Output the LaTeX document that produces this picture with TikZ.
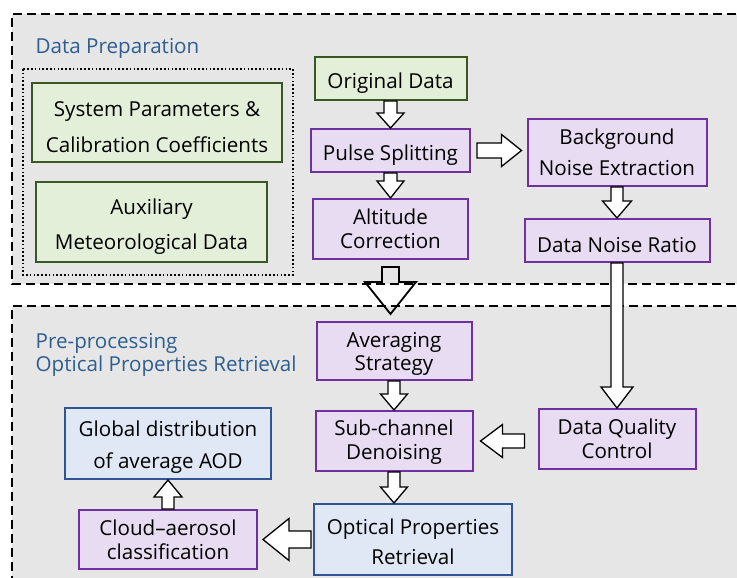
\documentclass[tikz,border=0pt]{standalone}
\usepackage{fontspec}
\setmainfont{Open Sans}
\usetikzlibrary{calc}
\definecolor{bggray}{RGB}{230,230,230}
\definecolor{mpurple}{RGB}{112,48,160}
\definecolor{lpurple}{RGB}{232,220,243}
\definecolor{mgreen}{RGB}{56,87,35}
\definecolor{lgreen}{RGB}{228,239,218}
\definecolor{mblue}{RGB}{47,85,151}
\definecolor{lblue}{RGB}{224,232,246}
\definecolor{tblue}{RGB}{46,94,145}
\tikzset{box/.style = {draw, line width=2pt, inner sep=0pt, align=center, font=\fontsize{20.6}{24}\selectfont},
  pbox/.style = {box, draw=mpurple, fill=lpurple},
  gbox/.style = {box, draw=mgreen, fill=lgreen},
  bbox/.style = {box, draw=mblue, fill=lblue},
  sz/.style 2 args = {minimum width=#1pt, minimum height=#2pt},
  section/.style = {line width=2.5pt, dash pattern=on 9pt off 5pt},
  heading/.style = {text=tblue, inner sep=0pt, anchor=west, align=left, font=\fontsize{20.6}{23}\selectfont},
  fatarrow/.style = {draw=black, fill=white, line width=1.3pt, line join=miter}}
% taller first line, pushes the text down
\newcommand{\lowr}[1]{\rule{0pt}{#1pt}}
% block arrow: [opts] from, to, half shaft, half head, head length
\newcommand{\blockarrow}[6][]{%
  \draw[fatarrow,#1] let \p1=(#2), \p2=(#3), \p3=($(#3)!#6!(#2)$) in
    ($(\p1)!#4!90:(\p2)$) -- ($(\p3)!#4!90:(\p2)$) -- ($(\p3)!#5!90:(\p2)$) -- (\p2)
    -- ($(\p3)!#5!-90:(\p2)$) -- ($(\p3)!#4!-90:(\p2)$) -- ($(\p1)!#4!-90:(\p2)$) -- cycle;}

\begin{document}
\begin{tikzpicture}[x=1pt, y=-1pt]
      \clip (0,0) rectangle (737,578);
      % the two sections
      \fill [bggray] (12,14) rectangle (750,284);
      \draw [section] (750,14) -- (12,14) -- (12,284) -- (750,284);
      \fill [bggray] (12,306) rectangle (750,590);
      \draw [section] (750,306) -- (12,306) -- (12,590);
      \node [heading] (prep) at (35.5,48) {Data Preparation};
      \node [heading] (retr) at (35.5,354.5) {Pre-processing\\Optical Properties Retrieval};
      \draw [line width=1.6pt, dash pattern=on 1.6pt off 2.2pt] (23,69) rectangle (293,275);
      % data preparation
      \node [gbox, sz={250}{79}] (sys) at (157,122.5) {\lowr{23.6}System Parameters \&\\[12pt]Calibration Coefficients};
      \node [gbox, sz={231}{80}] (aux) at (151.5,222) {\lowr{25.6}Auxiliary\\[11pt]Meteorological Data};
      \node [gbox, sz={152}{43}] (orig) at (390.5,78.5) {\lowr{24.6}Original Data};
      \node [pbox, sz={159}{43}] (pulse) at (390.5,150.5) {\lowr{24.6}Pulse Splitting};
      \node [pbox, sz={155}{60}] (alt) at (390.5,229) {Altitude\\Correction};
      \node [pbox, sz={179}{67}] (bg) at (617,152.5) {Background\\[7pt]Noise Extraction};
      \node [pbox, sz={185}{43}] (dnr) at (617,240.5) {\lowr{24.6}Data Noise Ratio};
      % retrieval
      \node [pbox, sz={155}{58}] (avg) at (394,351) {\lowr{21.6}Averaging\\[-1pt]Strategy};
      \node [pbox, sz={157}{60}] (sub) at (394,441) {\lowr{18.6}Sub-channel\\Denoising};
      \node [pbox, sz={157}{60}] (dqc) at (617,439) {Data Quality\\Control};
      \node [bbox, sz={198}{71}] (opt) at (413,539.5) {\lowr{20.6}Optical Properties\\[6pt]Retrieval};
      \node [bbox, sz={206}{71}] (glob) at (168,443.5) {\lowr{22.6}Global distribution\\[8pt]of average AOD};
      \node [pbox, sz={178}{59}] (cloud) at (168,539.5) {Cloud--aerosol\\classification};
      % arrow ends
      \coordinate (ps1) at ($(pulse.east)+(6,0)$);
      \coordinate (ps2) at ($(pulse.east -| bg.west)+(-5,0)$);
      \coordinate (big1) at ($(alt.south)+(0,7)$);
      \coordinate (big2) at ($(alt.south |- avg.north)+(0,-7)$);
      \coordinate (dq1) at ($(dqc.west |- sub.east)+(-13,0)$);
      \coordinate (dq2) at ($(sub.east)+(7,0)$);
      \coordinate (so2) at (sub.south |- opt.north);
      \coordinate (oc1) at ($(opt.west)+(-2,0)$);
      \coordinate (oc2) at ($(cloud.east)+(5,0)$);
      \blockarrow{orig.south}{pulse.north}{6.5pt}{13.5pt}{15pt}
      \blockarrow{pulse.south}{alt.north}{6.5pt}{13.5pt}{17pt}
      \blockarrow{ps1}{ps2}{7.5pt}{16pt}{20pt}
      \blockarrow{bg.south}{dnr.north}{6pt}{14.5pt}{17pt}
      \blockarrow{dnr.south}{dqc.north}{6pt}{16pt}{21pt}
      \blockarrow[fill=none, line width=1.8pt]{big1}{big2}{8.5pt}{25.5pt}{32pt}
      \blockarrow{avg.south}{sub.north}{6pt}{13.5pt}{16pt}
      \blockarrow{dq1}{dq2}{7pt}{16.5pt}{22pt}
      \blockarrow{sub.south}{so2}{6pt}{13.5pt}{16pt}
      \blockarrow{oc1}{oc2}{8.5pt}{21pt}{26pt}
      \blockarrow{cloud.north}{glob.south}{6pt}{14pt}{17pt}
    \end{tikzpicture}
\end{document}
